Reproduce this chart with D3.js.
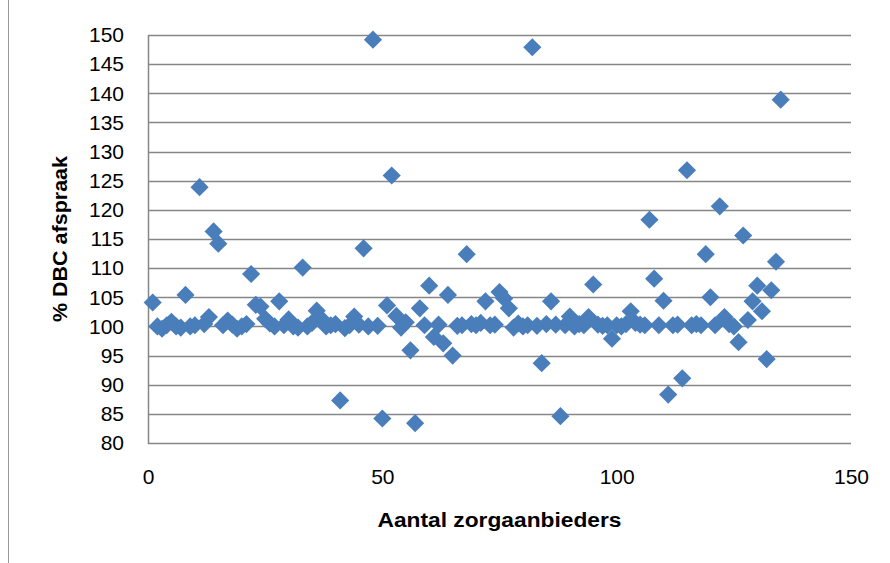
<!DOCTYPE html>
<html>
<head>
<meta charset="utf-8">
<script src="https://cdn.jsdelivr.net/npm/d3@7"></script>
<style>
  body { margin: 0; background: #fff; }
  svg text { font-family: "Liberation Sans", Arial, sans-serif; fill: #000; }
</style>
</head>
<body>
<div id="chart"></div>
<script>
// % DBC afspraak per zorgaanbieder (provider 1..135, in order)
const pctDBC = [
  104.1, 100.0, 99.6, 100.2, 100.8, 100.0, 99.8, 105.4, 100.0, 100.2,
  123.9, 100.4, 101.6, 116.3, 114.2, 100.2, 101.0, 100.3, 99.6, 100.0,
  100.4, 109.0, 103.7, 103.4, 101.3, 100.5, 100.0, 104.3, 100.2, 101.2,
  100.0, 99.8, 110.1, 100.0, 100.6, 102.7, 101.3, 100.0, 100.2, 100.4,
  87.3, 99.7, 100.2, 101.7, 100.3, 113.4, 100.0, 149.2, 100.1, 84.2,
  103.6, 125.9, 101.8, 99.8, 100.7, 95.9, 83.4, 103.1, 100.2, 107.0,
  98.2, 100.3, 97.1, 105.4, 95.0, 100.1, 100.2, 112.4, 100.4, 100.2,
  100.6, 104.3, 100.2, 100.3, 105.9, 104.8, 103.1, 99.8, 100.5, 100.0,
  100.2, 147.9, 100.1, 93.7, 100.4, 104.3, 100.3, 84.6, 100.2, 101.7,
  100.0, 100.4, 100.2, 101.6, 107.2, 100.3, 100.1, 100.2, 97.9, 100.2,
  100.0, 100.4, 102.6, 100.6, 100.3, 100.2, 118.3, 108.2, 100.2, 104.4,
  88.3, 100.2, 100.3, 91.1, 126.8, 100.2, 100.4, 100.2, 112.4, 105.0,
  100.2, 120.6, 101.6, 100.4, 100.0, 97.3, 115.6, 101.1, 104.3, 107.0,
  102.6, 94.4, 106.2, 111.1, 138.9
];

const xTicks = [0, 50, 100, 150];
const yTicks = [80, 85, 90, 95, 100, 105, 110, 115, 120, 125, 130, 135, 140, 145, 150];
const xTitle = "Aantal zorgaanbieders";
const yTitle = "% DBC afspraak";

const W = 890, H = 563;
const margin = { top: 35, right: 39, bottom: 120, left: 148 };
const innerW = W - margin.left - margin.right;
const innerH = H - margin.top - margin.bottom;

const svg = d3.select("#chart").append("svg")
  .attr("width", W)
  .attr("height", H);

// outer chart frame (only left edge shows)
svg.append("line")
  .attr("x1", 8.5).attr("x2", 8.5)
  .attr("y1", 0).attr("y2", H)
  .attr("stroke", "#9a9a9a")
  .attr("stroke-width", 1);

const g = svg.append("g")
  .attr("transform", `translate(${margin.left}, ${margin.top})`);

const x = d3.scaleLinear().domain([0, 150]).range([0, innerW]);
const y = d3.scaleLinear().domain([80, 150]).range([innerH, 0]);

// gridlines
g.append("g")
  .selectAll("line")
  .data(yTicks)
  .join("line")
  .attr("x1", 0)
  .attr("x2", innerW)
  .attr("y1", (d) => Math.round(y(d)) + 0.5)
  .attr("y2", (d) => Math.round(y(d)) + 0.5)
  .attr("stroke", "#868686")
  .attr("stroke-width", 1.5);

// y axis line
g.append("line")
  .attr("x1", 0.5).attr("x2", 0.5)
  .attr("y1", Math.round(y(150)))
  .attr("y2", Math.round(y(80)) + 1)
  .attr("stroke", "#868686")
  .attr("stroke-width", 1.5);

// y tick labels
const yAxis = g.append("g")
  .call(d3.axisLeft(y).tickValues(yTicks).tickSize(0).tickPadding(24))
  .attr("font-size", 21)
  .attr("font-family", null);
yAxis.select(".domain").remove();

// x tick labels
const xAxis = g.append("g")
  .attr("transform", `translate(0, ${innerH})`)
  .call(d3.axisBottom(x).tickValues(xTicks).tickSize(0).tickPadding(26))
  .attr("font-size", 21)
  .attr("font-family", null);
xAxis.select(".domain").remove();

// diamond markers
const diamond = d3.symbol().type(d3.symbolSquare).size(165);
g.append("g")
  .selectAll("path")
  .data(pctDBC)
  .join("path")
  .attr("d", diamond)
  .attr("transform", (d, i) => `translate(${x(i + 1)}, ${y(d)}) rotate(45)`)
  .attr("fill", "#4a7ebb");

// axis titles
svg.append("text")
  .attr("x", margin.left + innerW / 2)
  .attr("y", 527)
  .attr("text-anchor", "middle")
  .attr("font-size", 21)
  .attr("font-weight", "bold")
  .attr("textLength", 244)
  .attr("lengthAdjust", "spacingAndGlyphs")
  .text(xTitle);

svg.append("text")
  .attr("transform", "rotate(-90)")
  .attr("x", -(margin.top + innerH / 2))
  .attr("y", 67)
  .attr("text-anchor", "middle")
  .attr("font-size", 21)
  .attr("font-weight", "bold")
  .attr("textLength", 166)
  .attr("lengthAdjust", "spacingAndGlyphs")
  .text(yTitle);
</script>
</body>
</html>
